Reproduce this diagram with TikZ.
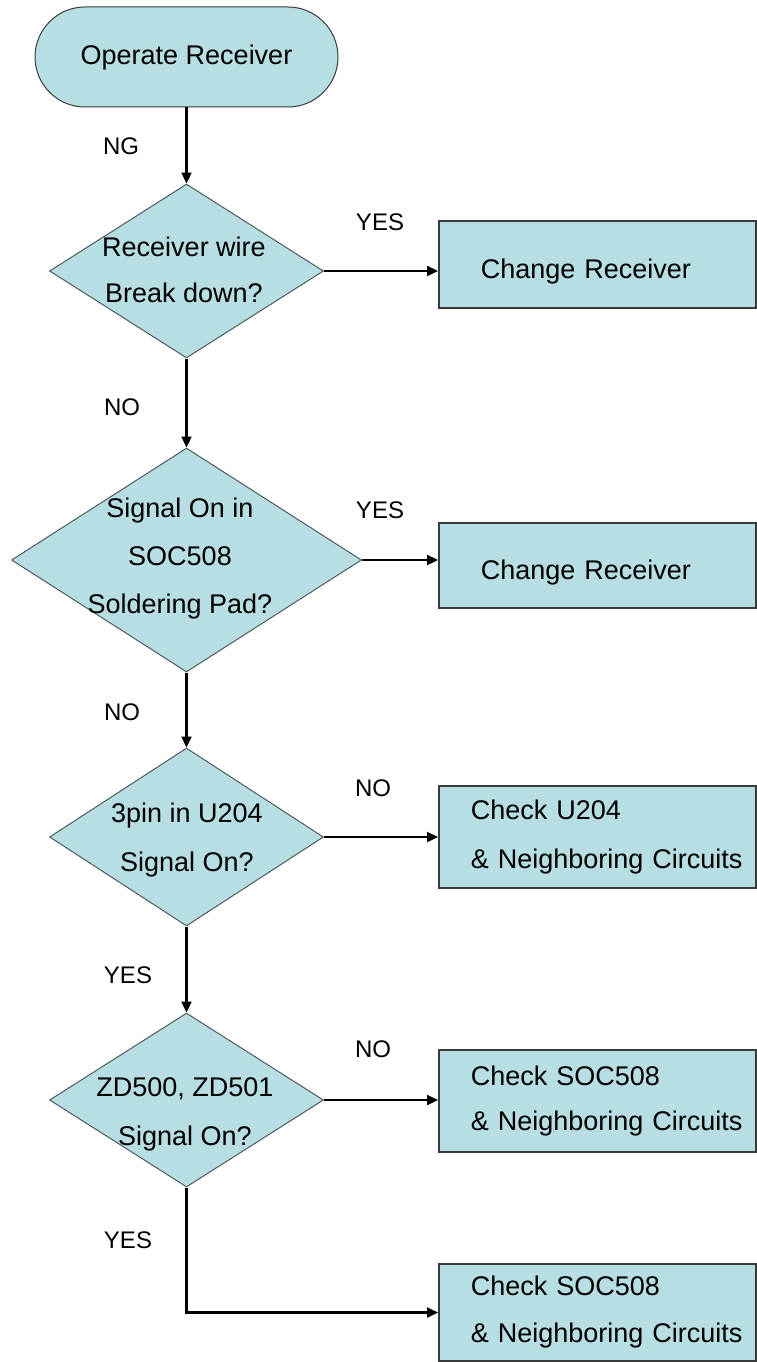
\documentclass[tikz,border=0pt]{standalone}
\usepackage{fontspec}
\setmainfont{Liberation Sans}
\usetikzlibrary{shapes.geometric,arrows.meta}
\definecolor{fillc}{HTML}{B7DEE3}
\definecolor{edgec}{HTML}{3A3A3A}
\definecolor{dedgec}{HTML}{505A5C}
\begin{document}
\begin{tikzpicture}[x=1pt,y=-1pt,
  bigfont/.style={font=\fontsize{27}{47}\selectfont},
  labfont/.style={font=\fontsize{24}{28}\selectfont},
  term/.style={rectangle, rounded corners=50pt, draw=edgec, line width=1pt, fill=fillc,
    minimum width=303pt, minimum height=100pt, inner sep=0pt, bigfont},
  dia/.style={diamond, draw=dedgec, line width=1pt, fill=fillc, inner sep=0pt,
    minimum width=274pt, minimum height=174pt},
  dtext/.style={align=center, inner sep=0pt, bigfont},
  procbox/.style={rectangle, draw=edgec, line width=1.5pt, fill=fillc, anchor=west,
    minimum width=317pt, inner ysep=0pt, align=left, bigfont},
  flow/.style={line width=2.3pt, -{Triangle[length=11pt,width=10pt]}},
  lab/.style={inner sep=0pt, labfont}]
\useasboundingbox (0,0) rectangle (756,1362);

% start
\node[term] (start) at (186.5,57) {\raisebox{-1pt}[\height][\depth]{Operate Receiver}};

% decisions
\node[dia] (d1) at (186.5,271) {};
\node[dia, minimum width=350pt, minimum height=224pt] (d2) at (186.5,560) {};
\node[dia, minimum height=178pt] (d3) at (186.5,837) {};
\node[dia] (d4) at (186.5,1100) {};

\node[dtext] (d1t) at (184,270) {Receiver wire\\[-1pt]Break down?};
\node[dtext] (d2t) at (180,559) {Signal On in\\[1pt]SOC508\\[1pt]Soldering Pad?};
\node[dtext] (d3t) at (187,840) {3pin in U204\\[2pt]Signal On?};
\node[dtext] (d4t) at (185,1114) {ZD500, ZD501\\[2pt]Signal On?};

% process boxes
\node[procbox, minimum height=87pt, inner xsep=42pt, text width=233pt] (b1) at (438,264.5)
  {\raisebox{-7pt}[\height][\depth]{Change Receiver}};
\node[procbox, minimum height=85pt, inner xsep=42pt, text width=233pt] (b2) at (438,565.5)
  {\raisebox{-7pt}[\height][\depth]{Change Receiver}};
\node[procbox, minimum height=102pt, inner xsep=32pt, text width=253pt] (b3) at (438,837)
  {Check U204\\[2pt]\mbox{\& Neighboring Circuits}};
\node[procbox, minimum height=102pt, inner xsep=32pt, text width=253pt] (b4) at (438,1101)
  {Check SOC508\\[-2pt]\mbox{\& Neighboring Circuits}};
\node[procbox, minimum height=97pt, inner xsep=32pt, text width=253pt] (b5) at (438,1312.5)
  {Check SOC508\\[0pt]\mbox{\& Neighboring Circuits}};

% connectors
\draw[flow] (start.south -| d1.north) -- (d1.north);
\draw[flow] (d1.east) -- (d1.east -| b1.west);
\draw[flow] (d1.south) -- (d2.north);
\draw[flow] (d2.east) -- (d2.east -| b2.west);
\draw[flow] (d2.south) -- (d3.north);
\draw[flow] (d3.east) -- (d3.east -| b3.west);
\draw[flow] (d3.south) -- (d4.north);
\draw[flow] (d4.east) -- (d4.east -| b4.west);
\draw[flow] (d4.south) |- (b5.west);

% labels
\node[lab] (lng) at (121,146) {NG};
\node[lab] (lno1) at (122,407) {NO};
\node[lab] (lno2) at (122,712) {NO};
\node[lab] (lyes3) at (128,975) {YES};
\node[lab] (lyes4) at (128,1240) {YES};
\node[lab] (ryes1) at (380,222) {YES};
\node[lab] (ryes2) at (380,510) {YES};
\node[lab] (rno3) at (373,788) {NO};
\node[lab] (rno4) at (373,1049) {NO};
\end{tikzpicture}
\end{document}
